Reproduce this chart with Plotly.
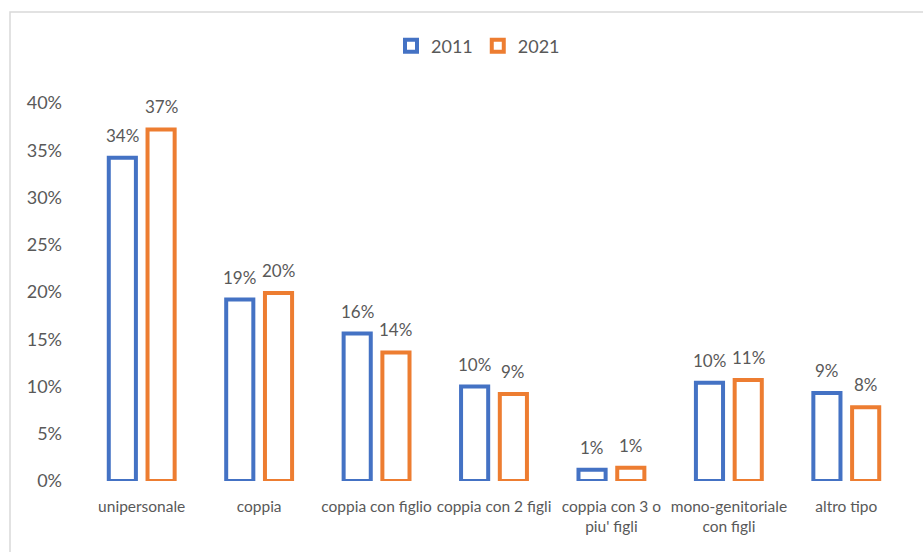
import plotly.graph_objects as go

# Household types and their share of all households
categories = [
    "unipersonale",
    "coppia",
    "coppia con figlio",
    "coppia con 2 figli",
    "coppia con 3 o<br>piu' figli",
    "mono-genitoriale<br>con figli",
    "altro tipo",
]
share_2011 = [0.342, 0.192, 0.156, 0.100, 0.012, 0.104, 0.093]
share_2021 = [0.372, 0.199, 0.136, 0.092, 0.014, 0.107, 0.078]

series_names = ["2011", "2021"]
series_colors = ["#4472C4", "#ED7D31"]
text_gray = "#595959"
font_family = "Lato, 'Open Sans', sans-serif"

# Plot area in pixels inside the 923x552 page
W, H = 923, 552
L, R, T, B = 83, 18, 103, 71
pw, ph = W - L - R, H - T - B

BARGAP = 0.34
GROUPGAP = 0.30

fig = go.Figure()
all_series = [share_2011, share_2021]
for name, vals, col in zip(series_names, all_series, series_colors):
    fig.add_trace(go.Bar(
        name=name,
        x=categories,
        y=vals,
        marker=dict(color="white", line=dict(color=col, width=4)),
        hoverinfo="x+y+name",
    ))

# Value labels above each bar, offset horizontally to the bar's slot
cat_px = pw / len(categories)
slot_px = cat_px * (1 - BARGAP) / len(all_series)
for k, vals in enumerate(all_series):
    offset = (k - (len(all_series) - 1) / 2) * slot_px
    for cat, v in zip(categories, vals):
        fig.add_annotation(
            x=cat, y=v, xref="x", yref="y",
            text=f"{v:.0%}", showarrow=False,
            xanchor="center", yanchor="bottom",
            xshift=offset, yshift=10,
            font=dict(size=17, color=text_gray, family=font_family),
        )

# Light frame around the whole chart
def px_x(v):
    return (v - L) / pw

def px_y(v):
    return (H - B - v) / ph

fig.add_shape(
    type="rect", xref="paper", yref="paper",
    x0=px_x(10), x1=px_x(940), y0=px_y(12), y1=px_y(570),
    line=dict(color="#D9D9D9", width=1.5), fillcolor="rgba(0,0,0,0)",
    layer="below",
)

fig.update_layout(
    width=W, height=H,
    margin=dict(l=L, r=R, t=T, b=B),
    paper_bgcolor="white",
    plot_bgcolor="white",
    barmode="group",
    bargap=BARGAP,
    bargroupgap=GROUPGAP,
    font=dict(family=font_family, color=text_gray, size=15),
    showlegend=True,
    legend=dict(
        orientation="h",
        x=px_x(478), xanchor="center",
        y=px_y(46), yanchor="middle",
        font=dict(size=18, color=text_gray, family=font_family),
        itemwidth=30,
        traceorder="normal",
        bgcolor="rgba(0,0,0,0)",
    ),
    xaxis=dict(
        showgrid=False, showline=False, zeroline=False, ticks="",
        tickfont=dict(size=15.5, color=text_gray, family=font_family),
        ticklabelstandoff=14,
    ),
    yaxis=dict(
        range=[0, 0.40],
        dtick=0.05,
        tickformat=".0%",
        showgrid=False, showline=False, zeroline=False, ticks="",
        tickfont=dict(size=18, color=text_gray, family=font_family),
        ticklabelstandoff=20,
    ),
)

fig.write_html("out.html")
